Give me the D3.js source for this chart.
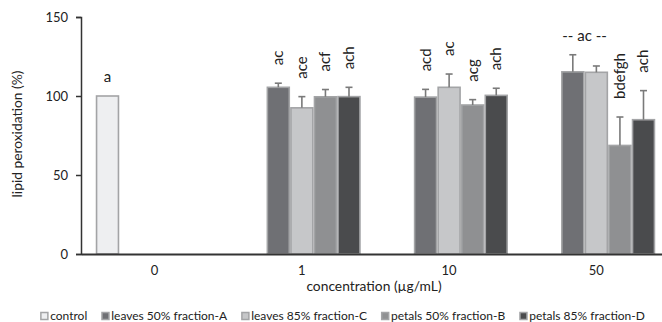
<!doctype html>
<html>
<head>
<script src="https://cdnjs.cloudflare.com/ajax/libs/d3/7.8.5/d3.min.js"></script>
<style>
  body { margin: 0; background: #fff; }
  svg { display: block; font-family: Lato, "Noto Sans", sans-serif; }
</style>
</head>
<body>
<svg width="662" height="322"></svg>
<script>
// chart values
var concentrations = ["0", "1", "10", "50"];
var seriesNames = ["control", "leaves 50% fraction-A", "leaves 85% fraction-C", "petals 50% fraction-B", "petals 85% fraction-D"];
var seriesColors = ["#eeeff1", "#6f7074", "#c6c7c9", "#8f9092", "#4a4b4d"];
// mean per concentration, null = no bar
var controlVals = [100, null, null, null];
var leavesA = [null, 105.5, 99.3, 115.3];
var leavesC = [null, 92.5, 105.5, 115.0];
var petalsB = [null, 99.5, 94.3, 68.7];
var petalsD = [null, 99.6, 100.4, 85.0];
// upper error (sd)
var controlErr = [0, null, null, null];
var leavesAErr = [null, 2.6, 4.9, 10.8];
var leavesCErr = [null, 7.1, 8.4, 4.0];
var petalsBErr = [null, 4.6, 3.4, 18.0];
var petalsDErr = [null, 5.9, 4.5, 18.4];
// significance letters
var controlLbl = ["a", null, null, null];
var leavesALbl = [null, "ac", "acd", null];
var leavesCLbl = [null, "ace", "ac", null];
var petalsBLbl = [null, "acf", "acg", "bdefgh"];
var petalsDLbl = [null, "ach", "ach", "ach"];
var groupLbl = "-- ac --"; // shared by leaves A and C at 50
var yTicks = [0, 50, 100, 150];

var allVals = [controlVals, leavesA, leavesC, petalsB, petalsD];
var allErr = [controlErr, leavesAErr, leavesCErr, petalsBErr, petalsDErr];
var allLbl = [controlLbl, leavesALbl, leavesCLbl, petalsBLbl, petalsDLbl];

var bars = [];
concentrations.forEach(function (c, ci) {
  seriesNames.forEach(function (s, si) {
    if (allVals[si][ci] != null) {
      bars.push({ conc: c, series: s, si: si, value: allVals[si][ci], err: allErr[si][ci], label: allLbl[si][ci] });
    }
  });
});

var svg = d3.select("svg");
var plotLeft = 81, plotRight = 670, plotTop = 17, plotBottom = 254;

var x = d3.scaleBand().domain(concentrations).range([plotLeft, plotRight])
  .paddingInner(0.2).paddingOuter(0.1);
var xs = d3.scaleBand().domain(seriesNames).range([0, x.bandwidth()]).paddingInner(0.07).paddingOuter(0.035);
var y = d3.scaleLinear().domain([0, 150]).range([plotBottom, plotTop]);

// bars
svg.append("g").selectAll("rect")
  .data(bars)
  .enter()
  .append("rect")
  .attr("x", d => x(d.conc) + xs(d.series))
  .attr("y", d => y(d.value))
  .attr("width", xs.bandwidth())
  .attr("height", d => y(0) - y(d.value))
  .attr("fill", d => seriesColors[d.si])
  .attr("stroke", "#a3a4a6")
  .attr("stroke-width", 1.6);

// error bars (upper only)
var eb = svg.append("g").attr("stroke", "#7a7a7a").attr("stroke-width", 1.6);
bars.filter(d => d.err > 0).forEach(function (d) {
  var cx = x(d.conc) + xs(d.series) + xs.bandwidth() / 2;
  eb.append("line").attr("x1", cx).attr("x2", cx).attr("y1", y(d.value)).attr("y2", y(d.value + d.err));
  eb.append("line").attr("x1", cx - 3.5).attr("x2", cx + 3.5).attr("y1", y(d.value + d.err)).attr("y2", y(d.value + d.err));
});

// letters
var lbl = svg.append("g").attr("fill", "#222").style("font-size", "15px");
bars.filter(d => d.label).forEach(function (d) {
  var cx = x(d.conc) + xs(d.series) + xs.bandwidth() / 2;
  var top = y(d.value + d.err);
  if (d.si === 0) {
    lbl.append("text").attr("x", cx).attr("y", top - 14).attr("text-anchor", "middle").text(d.label);
  } else {
    lbl.append("text")
      .attr("transform", "translate(" + (cx + 5) + "," + (top - 18) + ") rotate(-90)")
      .attr("text-anchor", "start")
      .text(d.label);
  }
});
var gx = (x("50") + xs(seriesNames[1]) + x("50") + xs(seriesNames[2]) + xs.bandwidth()) / 2;
lbl.append("text").attr("x", gx).attr("y", 41).attr("text-anchor", "middle").text(groupLbl);

// y axis
var yAxis = svg.append("g").attr("transform", "translate(" + plotLeft + ",0)")
  .call(d3.axisLeft(y).tickValues(yTicks).tickSize(5).tickPadding(8));
yAxis.select(".domain").attr("stroke", "#333").attr("stroke-width", 1.5);
yAxis.selectAll(".tick line").attr("stroke", "#333").attr("stroke-width", 1.5);
yAxis.selectAll("text").attr("fill", "#222").style("font-size", "13px").style("font-family", "Lato, 'Noto Sans', sans-serif");

// x axis
var xAxis = svg.append("g").attr("transform", "translate(0," + plotBottom + ")")
  .call(d3.axisBottom(x).tickSize(0).tickPadding(12).tickSizeOuter(0));
xAxis.select(".domain").attr("stroke", "#333").attr("stroke-width", 2);
xAxis.selectAll("text").attr("fill", "#222").style("font-size", "13px").style("font-family", "Lato, 'Noto Sans', sans-serif");

// axis titles
svg.append("text").attr("x", 374).attr("y", 291).attr("text-anchor", "middle")
  .style("font-size", "13.8px").attr("fill", "#222").text("concentration (\u00b5g/mL)");
svg.append("text").attr("transform", "translate(22,134) rotate(-90)").attr("text-anchor", "middle")
  .style("font-size", "13.8px").attr("fill", "#222").text("lipid peroxidation (%)");

// legend
var leg = svg.append("g");
var lx = 0;
seriesNames.forEach(function (s, i) {
  var g = leg.append("g").attr("transform", "translate(" + lx + ",0)");
  g.append("rect").attr("x", 0.75).attr("y", -7.5).attr("width", 7).attr("height", 7)
    .attr("fill", seriesColors[i]).attr("stroke", "#a3a4a6").attr("stroke-width", 1.5);
  var t = g.append("text").attr("x", 10).attr("y", 0).style("font-size", "12px").attr("fill", "#222").text(s);
  lx += 10 + t.node().getComputedTextLength() + 14;
});
lx -= 14;
leg.attr("transform", "translate(" + (342.5 - lx / 2) + ",320)");
</script>
</body>
</html>
